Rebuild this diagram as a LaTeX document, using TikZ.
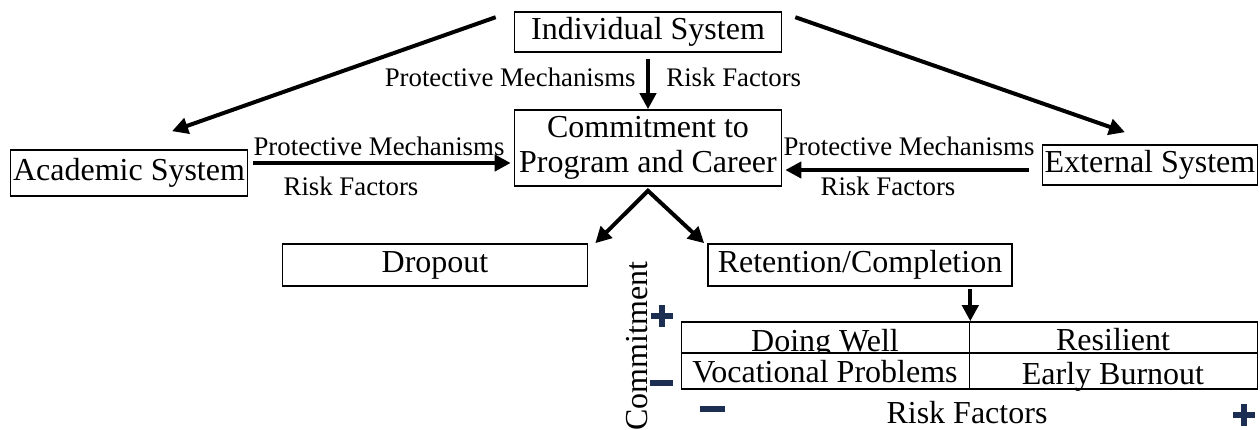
\documentclass[tikz,border=0pt]{standalone}
\usepackage{fontspec}
\setmainfont{Liberation Serif}
\usepackage{xcolor}
\usepackage{tikz}
\usetikzlibrary{arrows.meta, positioning, calc}
\definecolor{marknavy}{RGB}{28,46,82}
\tikzset{
  sysbox/.style={draw, line width=0.8pt, inner sep=0pt, align=center, font=\fontsize{16}{17.5}\selectfont},
  lbl/.style={inner sep=0pt, font=\fontsize{13.4}{15}\selectfont},
  bigtxt/.style={inner sep=0pt, font=\fontsize{16}{17.5}\selectfont},
  cell/.style={draw, line width=0.8pt, inner sep=0pt, minimum width=144pt},
  arr/.style={-{Triangle[length=8pt,width=8pt]}, line width=2pt},
  twoarr/.style={{Triangle[length=8pt,width=8pt]}-{Triangle[length=8pt,width=8pt]}, line width=2pt},
  pm/.style={line width=3.4pt, marknavy}
}

\begin{document}
\begin{tikzpicture}[x=0.5pt, y=-0.5pt]
\useasboundingbox (0,0) rectangle (1260,429);

% Systems
\node[sysbox, minimum width=133.5pt, minimum height=20pt] (indiv) at (648,32) {Individual System};
\node[sysbox, minimum width=133.5pt, minimum height=38pt] (commit) at (648,148) {Commitment to\\Program and Career};
\node[sysbox, minimum width=118.5pt, minimum height=23pt] (acad) at (129,173) {Academic System};
\node[sysbox, minimum width=107.5pt, minimum height=20pt] (ext) at (1150,165) {External System};

% Outcomes
\node[sysbox, minimum width=152.5pt, minimum height=21pt] (drop) at (435,265) {Dropout};
\node[sysbox, minimum width=152pt, minimum height=21pt] (ret) at (860,265) {Retention/Completion};

% Arrows between systems
\draw[arr] ([shift={(-18,6)}]indiv.north west) -- ([shift={(43,-18)}]acad.north);
\draw[arr] ([shift={(13,6)}]indiv.north east) -- ([shift={(-25,-12)}]ext.north);
\draw[arr] ([yshift=-3pt]indiv.south) -- (commit.north);
\draw[arr] ([shift={(5,-10)}]acad.east) -- ([shift={(-3,-10)}]acad.east -| commit.west);
\draw[arr] ([shift={(-13,5)}]ext.west) -- ([shift={(3,5)}]ext.west -| commit.east);
\draw[twoarr] ([xshift=3.5pt]drop.north east) -- ([yshift=-2pt]commit.south) -- ([xshift=-1.5pt]ret.north west);

% Arrow labels
\node[lbl, anchor=base east] (ipm) at (636,86) {Protective Mechanisms};
\node[lbl, anchor=base west] (irf) at (666,86) {Risk Factors};
\node[lbl, anchor=base] (apm) at (379,155) {Protective Mechanisms};
\node[lbl, anchor=base] (arf) at (351,195) {Risk Factors};
\node[lbl, anchor=base] (epm) at (909,155) {Protective Mechanisms};
\node[lbl, anchor=base] (erf) at (888,195) {Risk Factors};

% Grid
\node[cell, minimum height=15.5pt] (well) at (825.5,337.5) {};
\node[cell, minimum height=15.5pt] (resil) at (1113.5,337.5) {};
\node[bigtxt, anchor=base] (wellt) at (825,351) {Doing Well};
\node[bigtxt, anchor=base] (resilt) at (1113,350) {Resilient};
\node[cell, minimum height=18pt, fill=white] (voc) at (825.5,371) {};
\node[cell, minimum height=18pt, fill=white] (burn) at (1113.5,371) {};
\node[bigtxt, anchor=base] (voct) at (825,382) {Vocational Problems};
\node[bigtxt, anchor=base] (burnt) at (1113,384) {Early Burnout};
\draw[arr] ([yshift=-1pt]ret.south -| well.north east) -- (well.north east);

% Axes
\node[bigtxt, rotate=90] (cmtlbl) at (637,346) {Commitment};
\node[bigtxt, anchor=base] (risklbl) at (967,423) {Risk Factors};
\draw[pm] (651,316) -- (673,316) (662,305) -- (662,327);
\draw[pm] (650,383) -- (673,383);
\draw[pm] (700,409) -- (725,409);
\draw[pm] (1233,415) -- (1255,415) (1244,404) -- (1244,426);
\end{tikzpicture}
\end{document}
